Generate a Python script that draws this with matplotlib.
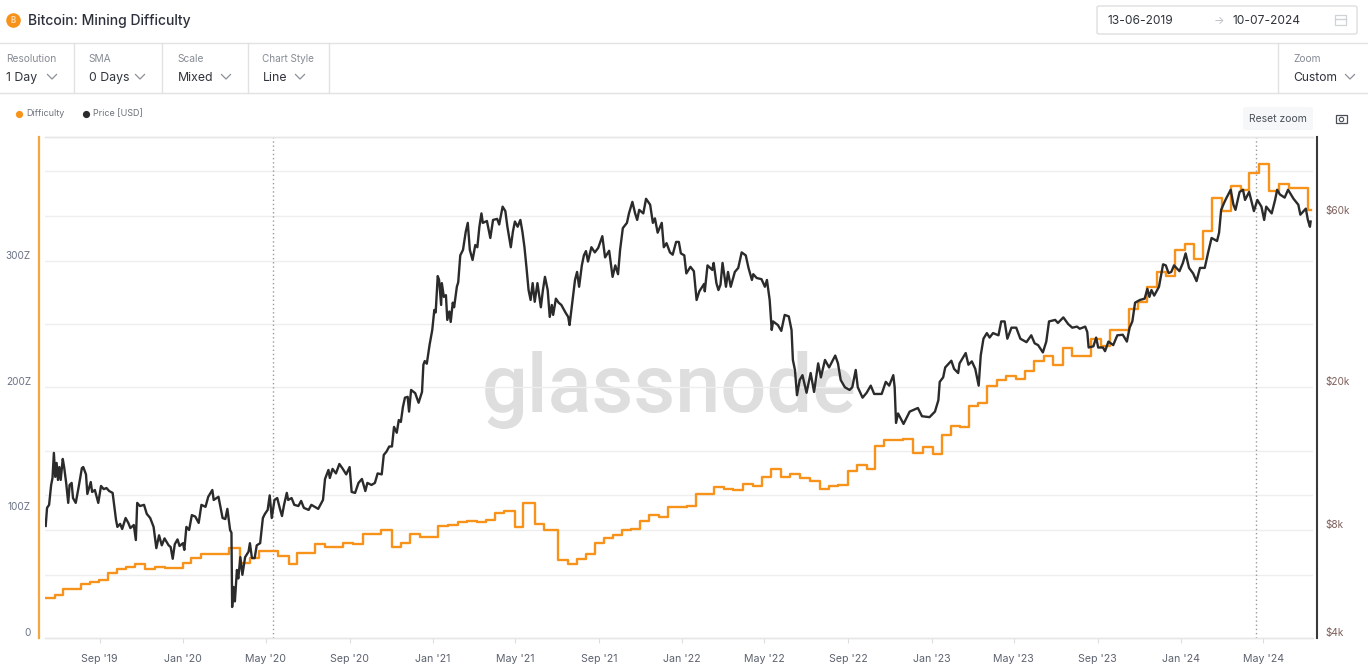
import matplotlib
matplotlib.use('Agg')
import matplotlib.pyplot as plt
from matplotlib.lines import Line2D
from matplotlib.patches import FancyBboxPatch, Rectangle
from matplotlib.ticker import FixedLocator, NullLocator
import pandas as pd

plt.rcParams['font.family'] = ['Inter', 'Noto Sans', 'DejaVu Sans']

W, H = 1368, 672

start_date = '2019-06-13'
halving_dates = ['2020-05-12', '2024-04-20']
x_tick_dates = ['2019-09-01', '2020-01-01', '2020-05-01', '2020-09-01', '2021-01-01',
                '2021-05-01', '2021-09-01', '2022-01-01', '2022-05-01', '2022-09-01',
                '2023-01-01', '2023-05-01', '2023-09-01', '2024-01-01', '2024-05-01']
x_tick_labels = ["Sep '19", "Jan '20", "May '20", "Sep '20", "Jan '21", "May '21", "Sep '21", "Jan '22",
                 "May '22", "Sep '22", "Jan '23", "May '23", "Sep '23", "Jan '24", "May '24"]
difficulty_ticks = [0, 100, 200, 300]
difficulty_labels = ['0', '100Z', '200Z', '300Z']
price_ticks = [4000, 8000, 20000, 60000]
price_labels = ['$4k', '$8k', '$20k', '$60k']
price_grid = [6000, 8000, 10000, 13300, 20000, 30000, 45000, 60000, 80000]

# days after start_date, difficulty in Z (each value holds until the next day)
diff_days = [0, 14, 26, 53, 66, 79, 92, 105, 119, 132, 146, 161, 176, 202, 214, 228, 269, 285, 300, 313,
             341, 357, 369, 395, 410, 436, 451, 466, 492, 508, 521, 534, 549, 575, 590, 605, 618, 633, 646, 659,
             672, 688, 700, 717, 731, 751, 766, 779, 792, 805, 818, 832, 845, 858, 871, 884, 899, 912, 940, 953,
             979, 994, 1007, 1022, 1037, 1050, 1063, 1078, 1091, 1105, 1120, 1135, 1148, 1161, 1176, 1189, 1203,
             1215, 1228, 1243, 1256, 1271, 1285, 1300, 1313, 1327, 1340, 1353, 1366, 1379, 1394, 1407, 1422, 1435,
             1448, 1463, 1476, 1490, 1504, 1531, 1546, 1559, 1587, 1600, 1613, 1628, 1641, 1655, 1669, 1682, 1695,
             1709, 1723, 1736, 1751, 1763, 1777, 1792, 1807, 1821, 1849, 1853]
diff_values = [32.1, 34.5, 39.4, 43.4, 44.6, 46.6, 51.8, 55, 56.6, 59, 55, 56.6, 55.8, 59.8, 63.7, 66.9, 72, 59.8, 63.7, 69.3,
               65.3, 59, 68, 74.9, 72.7, 75.7, 74.7, 83.1, 86.3, 72.5, 75.9, 82.9, 80.2, 89, 90.3, 92.4, 93.5, 92.4, 94, 99.8,
               101.4, 88.7, 107.8, 90.8, 86, 62.4, 59.2, 63, 67.2, 75.9, 79.4, 81.8, 86, 86.9, 93.5, 97.8, 96.2, 104.4, 105.2, 115,
               120.3, 118.5, 118.2, 122.9, 121.4, 128, 134.4, 128.5, 130.7, 127.3, 125.3, 119, 121.4, 122.1, 133, 138.1, 134.7,
               153, 157.8, 157.8, 158.8, 147.2, 152.2, 146.6, 161.8, 169.2, 168.1, 184.9, 187, 200.8, 205.6, 209, 206.1, 213,
               220.5, 224.7, 217.3, 231.3, 224.7, 238.5, 232.7, 245.4, 261.9, 267.7, 279.4, 291.6, 288.4, 309.2, 313.9, 302, 324.1,
               350.4, 340.2, 360.2, 357, 370.5, 377.7, 356.4, 361.8, 358.6, 341, 341]

price_days = [1, 3, 6, 9, 11, 13, 15, 17, 19, 21, 23, 26, 28, 31, 34, 36, 39, 41, 45, 49, 54, 56, 60, 62, 67, 69, 73, 78, 82, 86,
              90, 94, 99, 104, 106, 110, 113, 118, 122, 125, 130, 133, 135, 139, 145, 149, 154, 159, 163, 167, 171, 175, 181, 184,
              187, 190, 194, 197, 202, 204, 207, 211, 215, 220, 225, 229, 235, 239, 245, 247, 254, 260, 264, 267, 271, 273, 274,
              276, 278, 281, 283, 286, 289, 293, 298, 300, 303, 307, 310, 315, 319, 322, 326, 329, 332, 336, 340, 344,
              347, 350, 354, 356, 361, 365, 371, 375, 379, 386, 390, 400, 407, 410, 415, 417, 421, 426, 431, 436, 441, 446, 449,
              454, 459, 464, 469, 472, 478, 483, 487, 493, 496, 500, 504, 508, 511, 515, 518, 521, 524, 527, 531, 533, 536, 542,
              547, 552, 554, 556, 559, 563, 567, 570, 572, 575, 577, 580, 581, 584, 587, 589, 592, 594, 597, 599, 603, 605, 608,
              612, 616, 619, 622, 626, 630, 633, 636, 639, 641, 647, 652, 656, 662, 665, 670, 674, 677, 682, 685, 688, 692, 696,
              699, 702, 705, 708, 711, 714, 717, 721, 726, 729, 732, 736, 739, 742, 744, 748, 752,
              756, 762, 766, 768, 772, 776, 779, 782, 786, 789, 792, 795, 800, 805, 810, 816, 820, 826, 831, 835, 839, 842, 846,
              852, 855, 860, 864, 867, 870, 876, 880, 886, 890, 893, 897, 903, 906, 910, 915, 919, 924, 928, 931, 936, 939, 945,
              950, 954, 958, 965, 966, 970, 977, 979, 983, 986, 989, 992, 997, 1000, 1004, 1010, 1015, 1020, 1026, 1030, 1035,
              1037, 1042, 1049, 1054, 1057, 1061,
              1064, 1066, 1073, 1078, 1083, 1089, 1093, 1095, 1098, 1101, 1105, 1109, 1115, 1121, 1126, 1132, 1136, 1142, 1148,
              1157, 1161, 1165, 1171, 1178, 1182, 1187, 1190, 1197, 1203, 1209, 1214, 1225, 1231, 1236, 1242, 1244, 1246, 1249,
              1257, 1266, 1278, 1284, 1295, 1303, 1308, 1310, 1315, 1318, 1327, 1331, 1337, 1339, 1348, 1352, 1357, 1362, 1367,
              1370, 1374, 1379, 1383, 1388, 1396, 1400, 1405, 1409, 1415, 1422, 1428, 1437, 1444, 1449, 1454, 1461,
              1466, 1470, 1479, 1483, 1491, 1498, 1504, 1511, 1515, 1523, 1526, 1528, 1535, 1539, 1542, 1549, 1552, 1557, 1564,
              1570, 1578, 1584, 1588, 1592, 1596, 1603, 1610, 1614, 1617, 1620, 1624, 1631, 1637, 1641, 1645, 1649, 1653, 1661,
              1666, 1670, 1675, 1681, 1686, 1691, 1698, 1703, 1708, 1716, 1719, 1722, 1727, 1730, 1736, 1740, 1743, 1749, 1754,
              1757, 1763, 1770, 1775, 1781, 1785, 1788, 1796, 1801, 1804, 1808, 1815, 1820, 1828, 1835, 1838, 1846, 1849, 1852, 1853]
price_values = [8210, 9220, 9400, 10680, 11170, 13120, 11250, 12300, 11030, 11980, 11030, 12620, 11980, 10820, 9520, 10680, 10820, 9820, 9520, 10470, 11900, 11980, 11430, 10080, 10880, 10210, 10340, 9520, 10610, 10400,
                10470, 10270, 10150, 8530, 8160, 8320, 8050, 8640, 8370, 8100, 8260, 7500, 9520, 9330, 9400, 8870, 8640, 8160, 7120, 7730, 7250, 7580, 7250, 7170,
                6650, 7300, 7530, 7220, 7350, 7040, 8160, 8000, 8800, 8720, 8370, 9400, 9280, 9900, 10340, 9700, 9900, 8640, 8580, 9160, 8000, 7860, 4880,
                5550, 5060, 6190, 5860, 6720, 6000, 6720, 6960, 7350, 6680, 6680, 7250, 7350, 8640, 8870, 9100, 9990, 8640, 9700, 9820, 9160,
                8750, 9400, 10150, 9700, 9820, 9400, 9330, 9640, 9220, 9100, 9400, 9160, 9700, 11100, 11760, 11170, 11840, 11500, 12220, 11840, 11430, 11980, 10210,
                10150, 10820, 11100, 10270, 10820, 10680, 10820, 11500, 11430, 12950, 13230, 13670, 13670, 15500, 14930, 16200, 16000, 17600, 18700, 18800, 17100, 19650, 19250,
                18100, 19400, 23100, 23650, 23250, 26200, 28880, 32840, 32300, 40800, 39800, 33900, 39000, 35700, 36100, 30800, 32500, 30400, 34400, 33400, 38100, 39200, 46600,
                48260, 54200, 57400, 48260, 45250, 49800, 49100, 56000, 61000, 57400, 58100, 52100, 58500, 58900, 56800, 63700, 61900, 56000, 49100, 54200, 57900, 56000, 58500,
                54200, 49100, 43000, 37300, 35000, 39000, 34600, 39000, 33400, 37300, 40600, 37300, 31400, 33900, 31800, 35300, 34400,
                33900, 32300, 31400, 29800, 34400, 39800, 41900, 38100, 43700, 46600, 47900, 44800, 49100, 47500, 48900, 52700, 46000, 48000, 40600, 43700, 41300, 48260, 55500,
                57400, 61000, 65700, 61000, 58500, 62400, 61000, 67000, 64500, 57400, 59100, 53900, 57400, 49100, 50400, 47500, 46800, 50800, 50800, 47200, 46600, 41500, 43300,
                42100, 35000, 37000, 38800, 37000, 43700, 42440, 44400, 39000, 37300, 38600, 44400, 38100, 41900, 38100, 41900, 43000, 47500, 46600, 43000, 39800,
                41300, 40300, 40000, 38100, 39800, 35000,
                28880, 30500, 29800, 28700, 31800, 31500, 28880, 23820, 22340, 19000, 20950, 21600, 19300, 21900, 19400, 23300, 21300, 23820, 22700,
                24500, 23300, 20950, 20000, 19650, 20000, 22340, 20000, 18700, 19300, 20200, 19150, 19150, 20700, 20200, 21600, 20000, 15900, 16900,
                15800, 17100, 17500, 16600, 16500, 17100, 18400, 20700, 21300, 22700, 23700, 22500, 21900, 23300, 24900, 23100, 23600, 22500, 20200,
                24500, 27300, 28300, 27500, 28300, 27900, 30500, 30500, 27300, 29300, 29300, 27300, 26700, 27900, 26500, 26200, 25000,
                26800, 30500, 30800, 30200, 31300, 30000, 29300, 29500, 29100, 29500, 28500, 25800, 26000, 27500, 25800, 25800, 25200, 26800, 26200,
                27900, 28000, 26800, 29300, 30500, 34400, 35000, 35300, 37600, 35700, 37300, 36000, 38100, 44000, 43700, 41600, 41900, 43700, 42100,
                44400, 47200, 43000, 41500, 39500, 43000, 43000, 47500, 52100, 51100, 53900, 62400, 65700, 67500, 71000, 64500, 62400, 70000, 71000,
                66500, 70000, 61900, 66500, 63700, 58500, 63700, 61000, 66500, 71000, 68900, 67500, 71000, 67000, 64500, 60500, 62900, 58500, 56000, 57900]

fig = plt.figure(figsize=(W / 100, H / 100), dpi=100, facecolor='white')


def fx(x):
    return x / W


def fy(y):
    return 1 - y / H


def hline(y, x0=0, x1=W, color='#e2e2e2', lw=1.0):
    fig.add_artist(Line2D([fx(x0), fx(x1)], [fy(y), fy(y)], color=color, lw=lw))


def vline(x, y0, y1, color='#e2e2e2', lw=1.0):
    fig.add_artist(Line2D([fx(x), fx(x)], [fy(y0), fy(y1)], color=color, lw=lw))


def label(x, y, s, size, color='#3a3f4a', ha='left', **kw):
    fig.text(fx(x), fy(y), s, fontsize=size * 0.72, color=color, ha=ha, va='center', **kw)


def chevron(x, y):
    fig.add_artist(Line2D([fx(x - 4.5), fx(x), fx(x + 4.5)], [fy(y - 2.5), fy(y + 2), fy(y - 2.5)],
                          color='#8a8f98', lw=0.9))


# header
fig.add_artist(Line2D([fx(13)], [fy(20)], marker='o', ms=10.5, color='#f7931a', mew=0))
label(13, 20.5, 'B', 8, color='#fbd9a8', ha='center', fontweight='bold')
label(28, 21, 'Bitcoin: Mining Difficulty', 13.9, color='#2c303a', fontweight='medium')
fig.add_artist(FancyBboxPatch((fx(1097), fy(34)), fx(260), 28 / H, boxstyle='round,pad=0,rounding_size=0.002',
                              transform=fig.transFigure, fc='white', ec='#dedede', lw=1))
label(1107.5, 20.5, '13-06-2019', 12, color='#30343c')
label(1219, 20.5, '→', 11, color='#b8bcc2', ha='center')
label(1232.5, 20.5, '10-07-2024', 12, color='#30343c')
fig.add_artist(Rectangle((fx(1335), fy(25)), fx(11), 10 / H, transform=fig.transFigure, fc='white', ec='#cfd2d6', lw=0.9))
hline(18.5, 1335, 1346, color='#cfd2d6')

# toolbar
hline(43)
hline(93)
for x in [74, 162, 248, 329, 1278]:
    vline(x, 43, 93)
label(6.3, 59.5, 'Resolution', 10.2, color='#868b94')
label(6.3, 78, '1 Day', 12.3, color='#30343c')
chevron(52, 77)
label(88.5, 59.5, 'SMA', 10.2, color='#868b94')
label(88.5, 78, '0 Days', 12.3, color='#30343c')
chevron(140, 77)
label(177.5, 59.5, 'Scale', 10.2, color='#868b94')
label(177.5, 78, 'Mixed', 12.3, color='#30343c')
chevron(226, 77)
label(262.5, 59.5, 'Chart Style', 10, color='#868b94')
label(262.5, 78, 'Line', 12.3, color='#30343c')
chevron(300, 77)
label(1293, 59.5, 'Zoom', 10.2, color='#868b94')
label(1293, 78, 'Custom', 12.1, color='#30343c')
chevron(1350, 77)

# legend and buttons
fig.add_artist(Line2D([fx(19)], [fy(114)], marker='o', ms=5.2, color='#f7931a', mew=0))
label(26, 114, 'Difficulty', 9, color='#6d727b')
fig.add_artist(Line2D([fx(85.5)], [fy(114)], marker='o', ms=5.2, color='#2b2b2b', mew=0))
label(92.5, 114, 'Price [USD]', 9, color='#6d727b')
fig.add_artist(FancyBboxPatch((fx(1243), fy(130)), fx(70), 23 / H, boxstyle='round,pad=0,rounding_size=0.003',
                              transform=fig.transFigure, fc='#f6f7f9', ec='none'))
label(1278, 118.5, 'Reset zoom', 10.4, color='#4a4f58', ha='center')
fig.add_artist(Rectangle((fx(1335.5), fy(122.5)), fx(11), 8 / H, transform=fig.transFigure, fc='white', ec='#4a4f58', lw=0.9))
fig.add_artist(Line2D([fx(1341)], [fy(118.5)], marker='o', ms=3.2, mfc='white', mec='#4a4f58', mew=0.8))

# watermark sits behind the plot
fig.text(fx(669.5), fy(412), 'glassnode', fontsize=81 * 0.72, color='#dedede', ha='center', va='baseline',
         family=['Roboto', 'DejaVu Sans'], fontweight='medium', zorder=0)

# chart
base = pd.Timestamp(start_date)
diff_dates = base + pd.to_timedelta(diff_days, unit='D')
price_dates = base + pd.to_timedelta(price_days, unit='D')

ax = fig.add_axes([fx(45), fy(638), fx(1268), 501 / H])
ax.patch.set_alpha(0)
ax.set_zorder(1)
ax2 = ax.twinx()
ax2.patch.set_alpha(0)
ax2.set_zorder(2)

ax.set_xlim(base, base + pd.Timedelta(days=1856.5))
ax.set_ylim(0, 399.2)
ax2.set_yscale('log')
ax2.set_ylim(4000, 99600)

for p in price_grid:
    ax.plot([0, 1], [p, p], transform=ax2.get_yaxis_transform(which='grid'), color='#eeeeee', lw=1, zorder=1)
for d in halving_dates:
    ax.axvline(pd.Timestamp(d), color='#9a9a9a', lw=1, ls=(0, (1, 2)), zorder=1)

ax.plot(diff_dates, diff_values, drawstyle='steps-post', color='#f7931a', lw=1.7, zorder=3)
ax2.plot(price_dates, price_values, color='#2b2b2b', lw=1.7, zorder=3)

ax.set_xticks(pd.to_datetime(x_tick_dates))
ax.set_xticklabels(x_tick_labels)
ax.tick_params(axis='x', length=5 * 0.72, width=0.8, color='#dddddd', labelsize=10.6 * 0.72,
               labelcolor='#5c626e', pad=11 * 0.72)

# y labels sit just above their grid level, so they are placed by hand
ax.yaxis.set_major_locator(FixedLocator(difficulty_ticks))
ax.tick_params(axis='y', length=0, labelleft=False)
for v, s in zip(difficulty_ticks, difficulty_labels):
    ax.annotate(s, xy=(0, v), xycoords=ax.get_yaxis_transform(which='grid'), xytext=(-14 * 0.72, 5 * 0.72),
                textcoords='offset points', ha='right', va='center', fontsize=10 * 0.72,
                color='#6a7285', annotation_clip=False)

ax2.yaxis.set_major_locator(FixedLocator(price_ticks))
ax2.yaxis.set_minor_locator(NullLocator())
ax2.tick_params(axis='y', length=0, labelright=False)
for v, s in zip(price_ticks, price_labels):
    ax2.annotate(s, xy=(1, v), xycoords=ax2.get_yaxis_transform(which='grid'), xytext=(12.5 * 0.72, 5 * 0.72),
                 textcoords='offset points', ha='left', va='center', fontsize=10 * 0.72,
                 color='#7d5f5a', annotation_clip=False)

for a in (ax, ax2):
    for side in ('top', 'bottom'):
        a.spines[side].set_color('#e6e6e6')
        a.spines[side].set_linewidth(1)
ax.spines['right'].set_visible(False)
ax2.spines['left'].set_visible(False)
ax.spines['left'].set_color('#f7a541')
ax.spines['left'].set_linewidth(1.6)
ax.spines['left'].set_position(('outward', 6 * 0.72))
ax2.spines['right'].set_color('#3a3a3a')
ax2.spines['right'].set_linewidth(1.5)
ax2.spines['right'].set_position(('outward', 4 * 0.72))

fig.savefig('out.png', dpi=100)
